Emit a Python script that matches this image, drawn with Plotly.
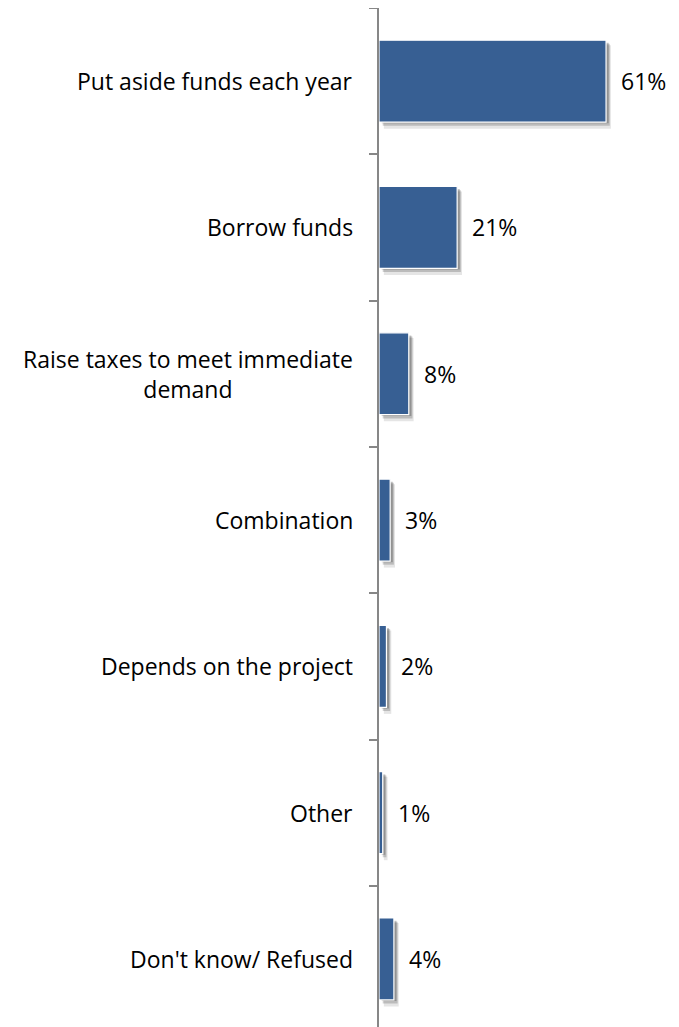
import plotly.graph_objects as go

categories = ["Put aside funds each year", "Borrow funds",
              "Raise taxes to meet immediate<br>demand", "Combination",
              "Depends on the project", "Other", "Don't know/ Refused"]
values = [61, 21, 8, 3, 2, 1, 4]
value_labels = ["61%", "21%", "8%", "3%", "2%", "1%", "4%"]

BAR = "#375F93"
FONT = "Open Sans"
FS = 23

fig = go.Figure()
# soft drop shadow layers
for dx, dy, alpha, extra in [(1.3, 0.035, 0.10, 0.01), (1.0, 0.025, 0.18, 0.0), (0.7, 0.018, 0.22, -0.01)]:
    fig.add_trace(go.Bar(
        y=categories, x=values, base=dx, orientation="h",
        width=0.56 + extra, offset=-0.28 + dy,
        marker=dict(color=f"rgba(0,0,0,{alpha})", line=dict(width=0)),
        hoverinfo="skip", showlegend=False))
fig.add_trace(go.Bar(
    y=categories, x=values, orientation="h", width=0.56,
    marker=dict(color=BAR, line=dict(color="white", width=1.2)),
    showlegend=False))

annotations = []
for c, v, t in zip(categories, values, value_labels):
    annotations.append(dict(x=v, y=c, xref="x", yref="y", text=t, showarrow=False,
                            xanchor="left", yanchor="middle", xshift=13,
                            font=dict(family=FONT, size=FS, color="black")))
    annotations.append(dict(x=0, y=c, xref="paper", yref="y", text=c, showarrow=False,
                            xanchor="right", yanchor="middle", xshift=-24, align="center",
                            font=dict(family=FONT, size=FS, color="black")))

fig.update_layout(
    width=671, height=1019,
    margin=dict(l=371, r=0, t=0, b=0),
    plot_bgcolor="white", paper_bgcolor="white",
    barmode="overlay",
    annotations=annotations,
    xaxis=dict(range=[0, 80.6], visible=False, showgrid=False, zeroline=False),
    yaxis=dict(categoryorder="array", categoryarray=categories,
               autorange=False, range=[6.465, -0.5],
               showgrid=False, zeroline=False, showticklabels=False,
               showline=True, linecolor="#878787", linewidth=1.5,
               ticks="outside", tickson="boundaries", ticklen=8,
               tickcolor="#878787", tickwidth=1.5),
)

fig.write_html("out.html")
